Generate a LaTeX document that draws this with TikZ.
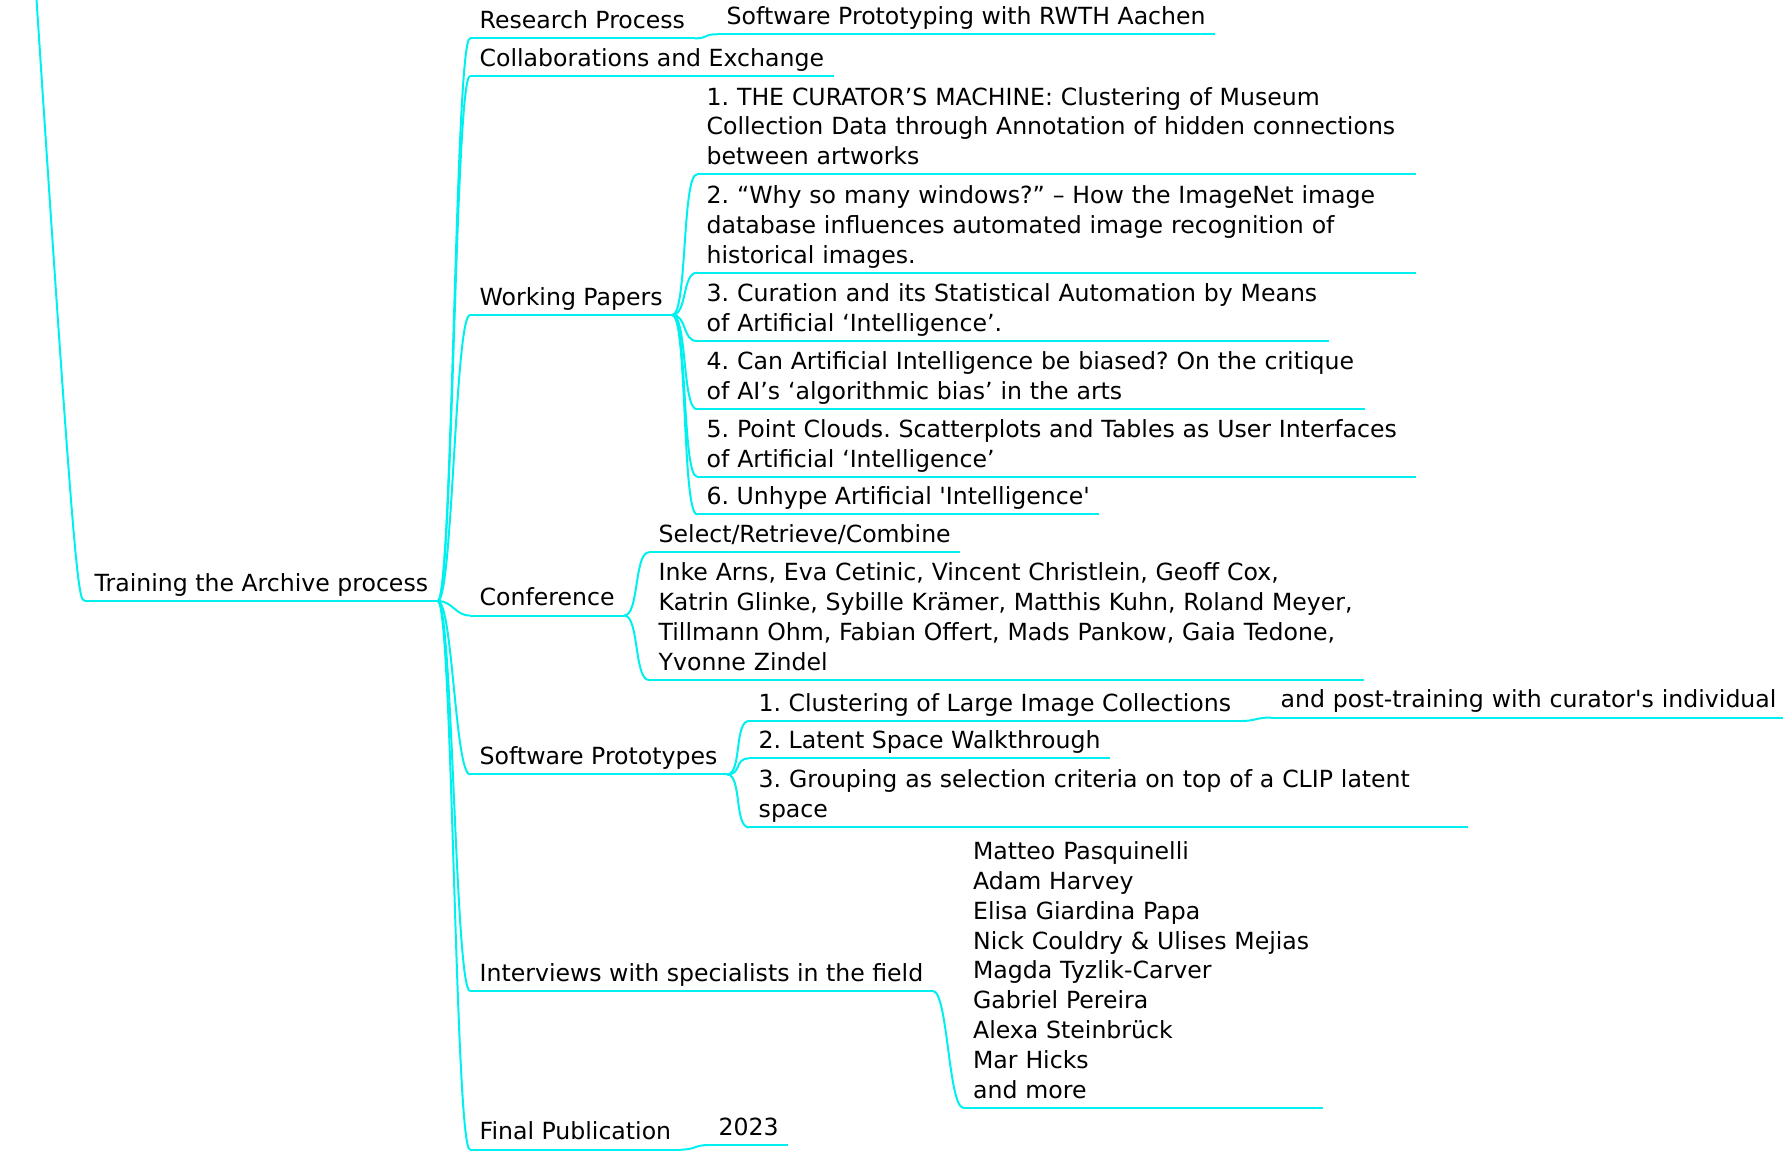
\documentclass[tikz,border=0pt]{standalone}
\usepackage{fontspec}
\setmainfont{DejaVu Sans}
\usepackage{tikz}
\definecolor{mapline}{HTML}{00F0F0}
\tikzset{
  topic/.style={
    anchor=south west, align=left,
    inner xsep=4.65pt, inner ysep=1.65pt, text depth=3pt,
    font=\fontsize{11.8}{14.9}\selectfont\frenchspacing,
    append after command={(\tikzlastnode.south west) edge[link] (\tikzlastnode.south east)},
  },
  link/.style={draw=mapline, line width=1pt},
  branch/.style={link, to path={.. controls +(15,0) and +(-15,0) .. (\tikztotarget)}},
}

\begin{document}
\begin{tikzpicture}[x=0.5pt, y=-0.5pt]
  \useasboundingbox (0,0) rectangle (1783,1163);

  \node[topic] (root) at (85,601) {Training the Archive process};

  \node[topic] (research) at (470,38.3) {Research Process};
  \node[topic] (rwth) at (717,34.3) {Software Prototyping with RWTH Aachen};
  \node[topic] (collab) at (470,76) {Collaborations and Exchange};

  % text depth of a block = lines below the first times 14.9pt, plus 3pt
  \node[topic] (papers) at (470,315) {Working Papers};
  \node[topic, text width=350pt, text depth=32.8pt] (paperA) at (697,174.3) {1. THE CURATOR’S MACHINE: Clustering of Museum\\Collection Data through Annotation of hidden connections\\between artworks};
  \node[topic, text width=350pt, text depth=32.8pt] (paperB) at (697,272.7) {2. “Why so many windows?” – How the ImageNet image\\database influences automated image recognition of\\historical images.};
  \node[topic, text width=306.5pt, text depth=17.9pt] (paperC) at (697,341) {3. Curation and its Statistical Automation by Means\\of Artificial ‘Intelligence’.};
  \node[topic, text width=324.5pt, text depth=17.9pt] (paperD) at (697,409.3) {4. Can Artificial Intelligence be biased? On the critique\\of AI’s ‘algorithmic bias’ in the arts};
  \node[topic, text width=350pt, text depth=17.9pt] (paperE) at (697,476.7) {5. Point Clouds. Scatterplots and Tables as User Interfaces\\of Artificial ‘Intelligence’};
  \node[topic] (paperF) at (697,514.3) {6. Unhype Artificial \textquotesingle Intelligence\textquotesingle};

  \node[topic] (conf) at (470,615.5) {Conference};
  \node[topic] (select) at (649,552.3) {Select/Retrieve/Combine};
  \node[topic, text width=348pt, text depth=47.7pt] (speakers) at (649,680) {Inke Arns, Eva Cetinic, Vincent Christlein, Geoff Cox,\\Katrin Glinke, Sybille Krämer, Matthis Kuhn, Roland Meyer,\\Tillmann Ohm, Fabian Offert, Mads Pankow, Gaia Tedone,\\Yvonne Zindel};

  \node[topic] (protos) at (470,774.4) {Software Prototypes};
  \node[topic] (protoA) at (749,721) {1. Clustering of Large Image Collections};
  \node[topic, text width=300pt] (posttrain) at (1271,717.5) {and post-training with curator\textquotesingle s individual};
  \node[topic] (protoB) at (749,758.4) {2. Latent Space Walkthrough};
  \node[topic, text width=350pt, text depth=17.9pt] (protoC) at (749,827.4) {3. Grouping as selection criteria on top of a CLIP latent\\space};

  \node[topic] (interviews) at (470,991) {Interviews with specialists in the field};
  \node[topic, text width=170pt, text depth=122.2pt] (people) at (963.4,1107.7) {Matteo Pasquinelli\\Adam Harvey\\Elisa Giardina Papa\\Nick Couldry \& Ulises Mejias\\Magda Tyzlik-Carver\\Gabriel Pereira\\Alexa Steinbrück\\Mar Hicks\\and more};

  \node[topic] (final) at (470,1149.6) {Final Publication};
  \node[topic] (year) at (709,1145) {2023};

  % incoming line from the parent above the page
  \coordinate (up) at (30,-100);
  \draw[link] (up) .. controls (75,590) and (78,601) .. (root.south west);

  \draw[branch] (root.south east) to (research.south west);
  \draw[branch] (root.south east) to (collab.south west);
  \draw[branch] (root.south east) to (papers.south west);
  \draw[branch] (root.south east) to (conf.south west);
  \draw[branch] (root.south east) to (protos.south west);
  \draw[branch] (root.south east) to (interviews.south west);
  \draw[branch] (root.south east) to (final.south west);

  \draw[branch] (research.south east) to (rwth.south west);

  \draw[branch] (papers.south east) to (paperA.south west);
  \draw[branch] (papers.south east) to (paperB.south west);
  \draw[branch] (papers.south east) to (paperC.south west);
  \draw[branch] (papers.south east) to (paperD.south west);
  \draw[branch] (papers.south east) to (paperE.south west);
  \draw[branch] (papers.south east) to (paperF.south west);

  \draw[branch] (conf.south east) to (select.south west);
  \draw[branch] (conf.south east) to (speakers.south west);

  \draw[branch] (protos.south east) to (protoA.south west);
  \draw[branch] (protos.south east) to (protoB.south west);
  \draw[branch] (protos.south east) to (protoC.south west);
  \draw[branch] (protoA.south east) to (posttrain.south west);

  \draw[branch] (interviews.south east) to (people.south west);
  \draw[branch] (final.south east) to (year.south west);
\end{tikzpicture}
\end{document}
